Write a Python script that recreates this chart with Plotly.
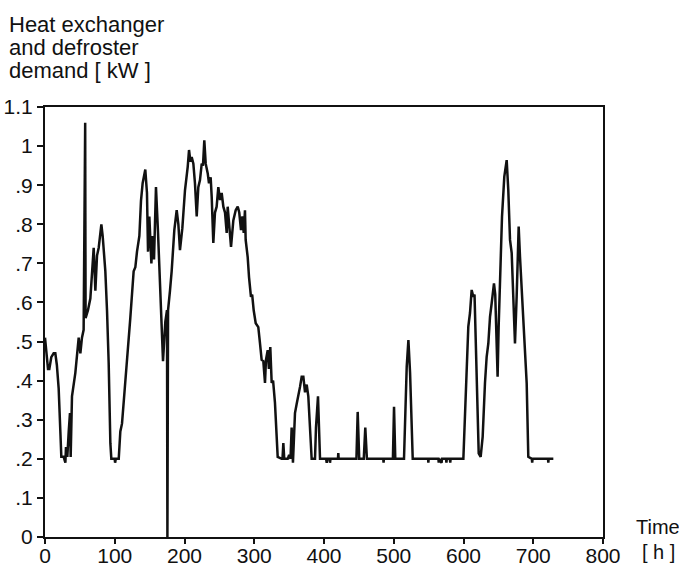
import plotly.graph_objects as go

# Time axis [h] and heat exchanger + defroster demand [kW]
hours = [
    0, 2, 4.3, 6.2, 9, 12.4, 14.8, 17, 19.6, 22, 23.4, 26.8, 29.2, 30.1, 32, 34, 35.8, 36.8,
    38.7, 43.5, 48.3, 50.7, 53, 55.4, 57.6, 58.2, 61.6, 65, 67.4, 69.8, 72.2, 74.6, 77, 80.8,
    82.7, 86.5, 88.9, 91.3, 93.7, 95.1, 99.9, 100.5, 101.5, 105.7, 108, 110.4, 114.2, 119,
    122.3, 127.1, 129.5, 131.9, 135.3, 137.6, 140, 143.8, 146.2, 147.7, 149.6, 152.5, 154.4,
    156.3, 159.1, 162, 165.3, 167.7, 169.2, 172.5, 174.9, 175.5, 176.4, 179.2, 181.6, 185.4,
    188.8, 191.2, 193.5, 196.9, 200.7, 204.6, 206.5, 208.5, 210.3, 212.7, 215, 217.5, 219.8,
    222.2, 224.7, 226.5, 228.4, 230.4, 233.3, 235.1, 237.5, 239, 241.3, 243.7, 246.1, 248.5,
    250.9, 253.3, 255.7, 258.1, 260.5, 261.9, 264, 266.7, 270, 273.4, 276.3, 278.5, 281, 283,
    284.9, 286.7, 287.7, 290.6, 292.5, 295.3, 297, 299.2, 302.1, 305.8, 308.2, 310.6, 313,
    315.4, 316.8, 319.3, 321, 323, 325, 327, 329.7, 332.1, 333.6, 339.3, 340.5, 341.7, 343,
    348, 350, 352, 353.6, 355.5, 358.4, 360.8, 363.2, 365.6, 368, 370.4, 372.8, 375.2, 377.5,
    379.9, 382.3, 387.1, 388.5, 391.4, 392.8, 394.3, 403, 403.9, 404.8, 408, 408.6, 409.3,
    420, 420.5, 421, 446.5, 448.3, 450.5, 457, 459.2, 461.5, 485, 485.4, 485.8, 498.8, 500.4,
    502.2, 514.7, 518.6, 521, 523.4, 527.2, 549.3, 549.6, 550, 564, 564.5, 565, 568.5, 569.2,
    575, 575.5, 576, 580.5, 581, 581.5, 599.8, 603.6, 606.9, 609.3, 611.7, 614, 615.8, 617.9,
    619.8, 621.8, 624.6, 627.5, 630.8, 633.2, 635.6, 638, 640.4, 643.7, 645.5, 647.5, 648.9,
    650.4, 652.3, 655.2, 658.5, 661.9, 664.2, 666.7, 669.1, 671.4, 673.8, 676.2, 679.1, 681,
    683.4, 686.7, 690.6, 692.9, 698, 698.5, 699, 721.2, 721.6, 722, 728.8,
]
demand_kw = [
    0.51, 0.47, 0.43, 0.43, 0.46, 0.47, 0.47, 0.44, 0.38, 0.27, 0.205, 0.205, 0.19, 0.23, 0.205, 0.27, 0.317, 0.205,
    0.36, 0.42, 0.51, 0.47, 0.51, 0.53, 1.06, 0.56, 0.58, 0.61, 0.68, 0.74, 0.63, 0.72, 0.74, 0.80,
    0.77, 0.68, 0.58, 0.445, 0.24, 0.2, 0.2, 0.19, 0.2, 0.2, 0.27, 0.29, 0.376, 0.50,
    0.56, 0.68, 0.69, 0.73, 0.77, 0.86, 0.905, 0.94, 0.88, 0.73, 0.82, 0.70, 0.77,
    0.71, 0.895, 0.78, 0.62, 0.50, 0.45, 0.55, 0.58, 0.0, 0.58, 0.63, 0.68, 0.785,
    0.836, 0.80, 0.734, 0.79, 0.887, 0.947, 0.99, 0.96, 0.972, 0.955, 0.905, 0.82, 0.895,
    0.913, 0.955, 0.95, 1.015, 0.955, 0.93, 0.905, 0.92, 0.87, 0.752, 0.83, 0.845, 0.895,
    0.862, 0.88, 0.845, 0.83, 0.778, 0.845, 0.80, 0.742, 0.81, 0.836, 0.845, 0.83, 0.785, 0.82,
    0.778, 0.836, 0.76, 0.716, 0.665, 0.614, 0.62, 0.58, 0.547, 0.537, 0.496, 0.453, 0.45,
    0.394, 0.453, 0.478, 0.43, 0.486, 0.394, 0.40, 0.343, 0.274, 0.205, 0.2, 0.2, 0.24, 0.2,
    0.2, 0.21, 0.2, 0.28, 0.19, 0.317, 0.34, 0.36, 0.384, 0.41, 0.41, 0.37, 0.39, 0.36,
    0.28, 0.2, 0.2, 0.28, 0.36, 0.30, 0.2, 0.2, 0.19, 0.2, 0.2, 0.19, 0.2,
    0.2, 0.215, 0.2, 0.2, 0.32, 0.2, 0.2, 0.28, 0.2, 0.2, 0.19, 0.2, 0.2, 0.333,
    0.2, 0.2, 0.436, 0.504, 0.42, 0.2, 0.2, 0.19, 0.2, 0.2, 0.19, 0.2, 0.19, 0.2,
    0.2, 0.19, 0.2, 0.2, 0.19, 0.2, 0.2, 0.394, 0.538, 0.573, 0.632, 0.615, 0.62, 0.478,
    0.308, 0.214, 0.205, 0.257, 0.394, 0.461, 0.495, 0.563, 0.598, 0.649, 0.62, 0.512, 0.41,
    0.538, 0.666, 0.819, 0.922, 0.964, 0.888, 0.76, 0.726, 0.623, 0.495, 0.615, 0.794, 0.717,
    0.632, 0.512, 0.393, 0.205, 0.2, 0.19, 0.2, 0.2, 0.19, 0.2, 0.2,
]

x_ticks = [0, 100, 200, 300, 400, 500, 600, 700, 800]
y_ticks = [0, 0.1, 0.2, 0.3, 0.4, 0.5, 0.6, 0.7, 0.8, 0.9, 1.0, 1.1]
y_tick_text = ["0", ".1", ".2", ".3", ".4", ".5", ".6", ".7", ".8", ".9", "1", "1.1"]

title_lines = ["Heat exchanger", "and defroster", "demand [ kW ]"]
x_unit_lines = ["Time", "[ h ]"]

FONT = "Liberation Sans, Arial, Helvetica, sans-serif"
INK = "#111111"

W, H = 679, 567
L, R, T, B = 45, 76, 107, 30
plot_w = W - L - R
plot_h = H - T - B

fig = go.Figure(
    go.Scatter(
        x=hours,
        y=demand_kw,
        mode="lines",
        line=dict(color=INK, width=2.5),
        hoverinfo="skip",
        showlegend=False,
    )
)

axis_common = dict(
    showline=True,
    linecolor=INK,
    linewidth=2,
    mirror=True,
    ticks="outside",
    tickcolor=INK,
    tickwidth=2,
    showgrid=False,
    zeroline=False,
    automargin=False,
    tickfont=dict(family=FONT, size=21, color=INK),
)

fig.update_xaxes(
    range=[0, 800],
    tickvals=x_ticks,
    ticktext=[str(v) for v in x_ticks],
    ticklen=5,
    ticklabelstandoff=-6,
    **axis_common,
)
fig.update_yaxes(
    range=[0, 1.1],
    tickvals=y_ticks,
    ticktext=y_tick_text,
    ticklen=6,
    **axis_common,
)


def px_to_paper_x(px):
    return (px - L) / plot_w


def px_to_paper_y(py):
    return (H - B - py) / plot_h


annotations = []
# Y-axis heading, one line each, left aligned
for i, line in enumerate(title_lines):
    annotations.append(dict(
        text=line,
        x=px_to_paper_x(7), y=px_to_paper_y(24.5 + i * 23.2),
        xref="paper", yref="paper",
        xanchor="left", yanchor="middle",
        showarrow=False,
        font=dict(family=FONT, size=22, color=INK),
    ))
# X-axis unit at the right end of the axis
for i, line in enumerate(x_unit_lines):
    annotations.append(dict(
        text=line,
        x=px_to_paper_x(658), y=px_to_paper_y(527 + i * 25),
        xref="paper", yref="paper",
        xanchor="center", yanchor="middle",
        showarrow=False,
        font=dict(family=FONT, size=20, color=INK),
    ))

fig.update_layout(
    width=W,
    height=H,
    margin=dict(l=L, r=R, t=T, b=B),
    paper_bgcolor="white",
    plot_bgcolor="white",
    annotations=annotations,
)

fig.write_html("out.html")
